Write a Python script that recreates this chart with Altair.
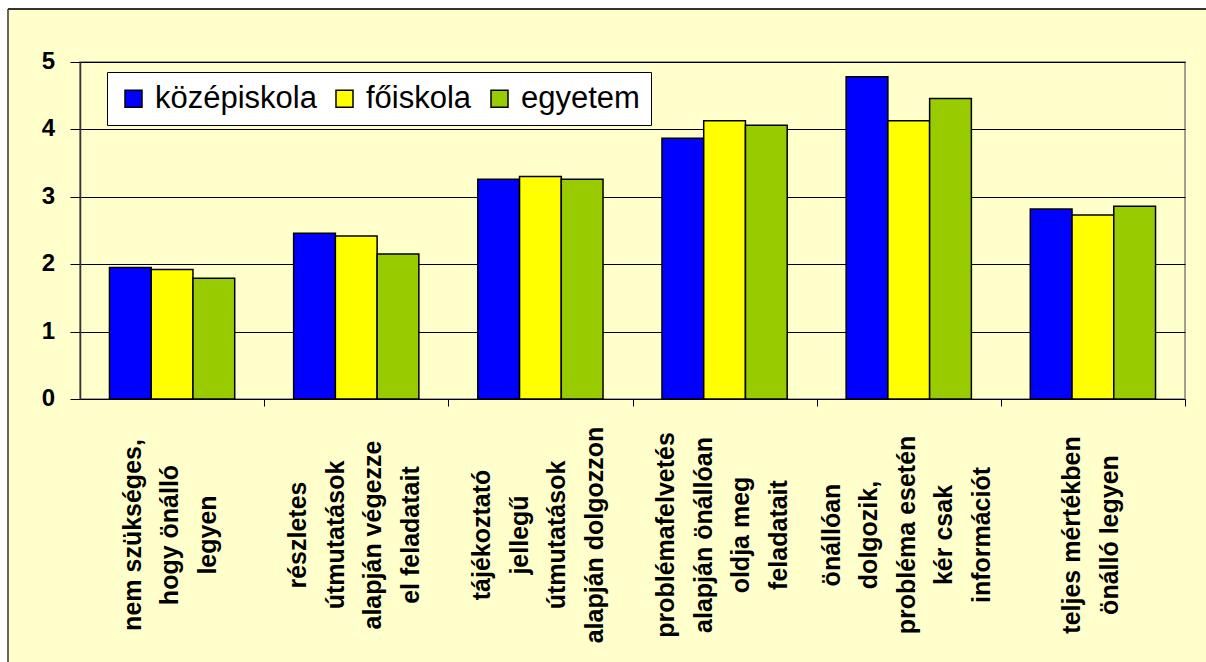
import altair as alt
import pandas as pd

# Category labels ("|" marks a line break in the label)
categories = [
    "nem szükséges,|hogy önálló|legyen",
    "részletes|útmutatások|alapján végezze|el feladatait",
    "tájékoztató|jellegű|útmutatások|alapján dolgozzon",
    "problémafelvetés|alapján önállóan|oldja meg|feladatait",
    "önállóan|dolgozik,|probléma esetén|kér csak|információt",
    "teljes mértékben|önálló legyen",
]
series = ["középiskola", "főiskola", "egyetem"]
kozepiskola = [1.95, 2.46, 3.26, 3.87, 4.78, 2.82]
foiskola = [1.92, 2.42, 3.30, 4.13, 4.13, 2.73]
egyetem = [1.79, 2.15, 3.26, 4.06, 4.46, 2.86]
colors = ["#0000FF", "#FFFF00", "#99CC00"]
y_ticks = [0, 1, 2, 3, 4, 5]

rows = []
for name, vals in zip(series, [kozepiskola, foiskola, egyetem]):
    for cat, v in zip(categories, vals):
        rows.append({"kategoria": cat, "intezmeny": name, "ertek": v})
df = pd.DataFrame(rows)

# One row per printed line of each category label; "sor" is the line's
# position relative to the middle of the label block (in line units)
label_rows = []
for cat in categories:
    parts = cat.split("|")
    for i, p in enumerate(parts):
        label_rows.append({"kategoria": cat, "szoveg": p, "sor": i - (len(parts) - 1) / 2})
labels_df = pd.DataFrame(label_rows)
ticks_df = pd.DataFrame({"ertek": y_ticks, "felirat": [str(t) for t in y_ticks]})

FONT = "Liberation Sans, Arial, sans-serif"
W, H = 1105, 337
PAD_INNER, PAD_OUTER = 0.32, 0.16
STEP = W / len(categories)
BAND = STEP * (1 - PAD_INNER)
LINE = 37.5     # spacing between label lines
SHIFT = -2      # label block sits slightly left of the bar group centre

x_enc = alt.X(
    "kategoria:N",
    sort=categories,
    scale=alt.Scale(paddingInner=PAD_INNER, paddingOuter=PAD_OUTER),
    axis=alt.Axis(
        title=None,
        labels=False,
        tickSize=7,
        tickColor="black",
        tickOffset=STEP / 2,
        domainColor="black",
        domainWidth=1,
        grid=False,
    ),
)
y_scale = alt.Scale(domain=[0, 5], nice=False)

bars = alt.Chart(df).mark_bar(stroke="black", strokeWidth=1.5).encode(
    x=x_enc,
    xOffset=alt.XOffset("intezmeny:N", sort=series, scale=alt.Scale(paddingInner=0, paddingOuter=0)),
    y=alt.Y(
        "ertek:Q",
        scale=y_scale,
        axis=alt.Axis(
            title=None,
            values=y_ticks,
            labels=False,
            tickSize=10,
            tickColor="black",
            domainColor="#333333",
            domainWidth=1.5,
            grid=True,
            gridColor="black",
            gridWidth=1,
            gridOpacity=1,
        ),
    ),
    color=alt.Color(
        "intezmeny:N",
        sort=series,
        scale=alt.Scale(domain=series, range=colors),
        legend=alt.Legend(
            title=None,
            orient="none",
            legendX=27,
            legendY=10,
            direction="horizontal",
            fillColor="white",
            strokeColor="black",
            padding=11,
            labelFont=FONT,
            labelFontSize=31,
            labelColor="black",
            labelOffset=6,
            labelLimit=400,
            columnPadding=12,
            symbolType="square",
            symbolSize=289,
            symbolStrokeColor="black",
            symbolStrokeWidth=1.5,
            symbolOpacity=1,
        ),
    ),
)

# Bold value labels of the y axis, right-aligned left of the tick marks
y_labels = alt.Chart(ticks_df).mark_text(
    align="right",
    baseline="middle",
    font=FONT,
    fontSize=24,
    fontWeight="bold",
    color="black",
).encode(
    y=alt.Y("ertek:Q", scale=y_scale),
    x=alt.value(-25),
    text="felirat:N",
)

# Rotated, multi-line category labels below the axis
half = BAND / 2 / LINE
cat_labels = alt.Chart(labels_df).mark_text(
    angle=270,
    align="center",
    baseline="middle",
    font=FONT,
    fontSize=25,
    fontWeight="bold",
    color="black",
).encode(
    x=alt.X("kategoria:N", sort=categories),
    xOffset=alt.XOffset(
        "sor:Q",
        scale=alt.Scale(domain=[-half - SHIFT / LINE, half - SHIFT / LINE], range=[0, BAND], zero=False, nice=False),
    ),
    y=alt.value(H + 136),
    text="szoveg:N",
)

# Outer frame: white margin along the top/left edge and a thin dark border line
frame_data = pd.DataFrame({"f": [0]})
margin_left = alt.Chart(frame_data).mark_rule(color="white", strokeWidth=16).encode(
    x=alt.value(-80), y=alt.value(-62), y2=alt.value(H + 263)
)
margin_top = alt.Chart(frame_data).mark_rule(color="white", strokeWidth=16).encode(
    y=alt.value(-62), x=alt.value(-80), x2=alt.value(W + 21)
)
border_left = alt.Chart(frame_data).mark_rule(color="#333333", strokeWidth=1.5).encode(
    x=alt.value(-72), y=alt.value(-53), y2=alt.value(H + 263)
)
border_top = alt.Chart(frame_data).mark_rule(color="#333333", strokeWidth=2).encode(
    y=alt.value(-53), x=alt.value(-72), x2=alt.value(W + 21)
)

chart = (
    alt.layer(bars, y_labels, cat_labels, margin_left, margin_top, border_left, border_top)
    .resolve_scale(xOffset="independent")
    .properties(
        width=W,
        height=H,
        autosize=alt.AutoSizeParams(type="none"),
        padding={"left": 80, "top": 62, "right": 21, "bottom": 263},
        background="#FFFFCC",
    )
    .configure_view(fill="#FFFFCC", stroke="#808080", strokeWidth=1.5)
    .configure_legend(strokeWidth=1)
)

chart.save("out.html", embed_options={"renderer": "svg", "actions": False})
